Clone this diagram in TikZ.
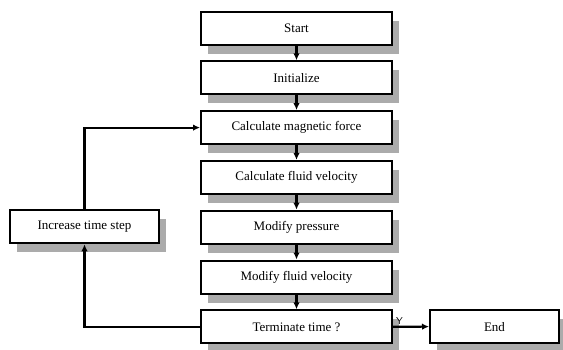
\documentclass[tikz,border=0pt]{standalone}
\usepackage{fontspec}
\setmainfont{Liberation Serif}
\usetikzlibrary{shadows,arrows.meta}
\begin{document}
\begin{tikzpicture}[x=1pt,y=1pt,
  box/.style={draw=black,line width=2pt,fill=white,minimum height=33pt,inner sep=0pt,
    font=\fontsize{13}{15}\selectfont,
    drop shadow={shadow xshift=7pt,shadow yshift=-9pt,fill=black!33,opacity=1}},
  mainbox/.style={box,minimum width=191pt},
  conn/.style={draw=black,line width=2.2pt,-{Latex[length=7pt,width=6.5pt]}}]
\useasboundingbox (0,0) rectangle (563,-349);
\node[mainbox] (start) at (296.5,-28) {Start};
\node[mainbox] (init) at (296.5,-77.8) {Initialize};
\node[mainbox] (mag) at (296.5,-127.6) {Calculate magnetic force};
\node[mainbox] (fvel) at (296.5,-177.4) {Calculate fluid velocity};
\node[mainbox] (pres) at (296.5,-227.2) {Modify pressure};
\node[mainbox] (mfv) at (296.5,-277) {Modify fluid velocity};
\node[mainbox] (term) at (296.5,-326.8) {Terminate time ?};
\node[box,minimum width=149pt] (inc) at (84.5,-226.8) {Increase time step};
\node[box,minimum width=129pt] (end) at (494.5,-326.6) {End};
\draw[conn] (start) -- (init);
\draw[conn] (init) -- (mag);
\draw[conn] (mag) -- (fvel);
\draw[conn] (fvel) -- (pres);
\draw[conn] (pres) -- (mfv);
\draw[conn] (mfv) -- (term);
\draw[conn] (term.west) -| (inc.south);
\draw[conn] (inc.north) |- (mag.west);
\draw[conn] (term.east) -- (end.west);
\node[font=\fontsize{10}{12}\selectfont\sffamily,anchor=south west,inner sep=1pt] (ylab) at ([xshift=2pt,yshift=1pt]term.east) {Y};
\end{tikzpicture}
\end{document}
